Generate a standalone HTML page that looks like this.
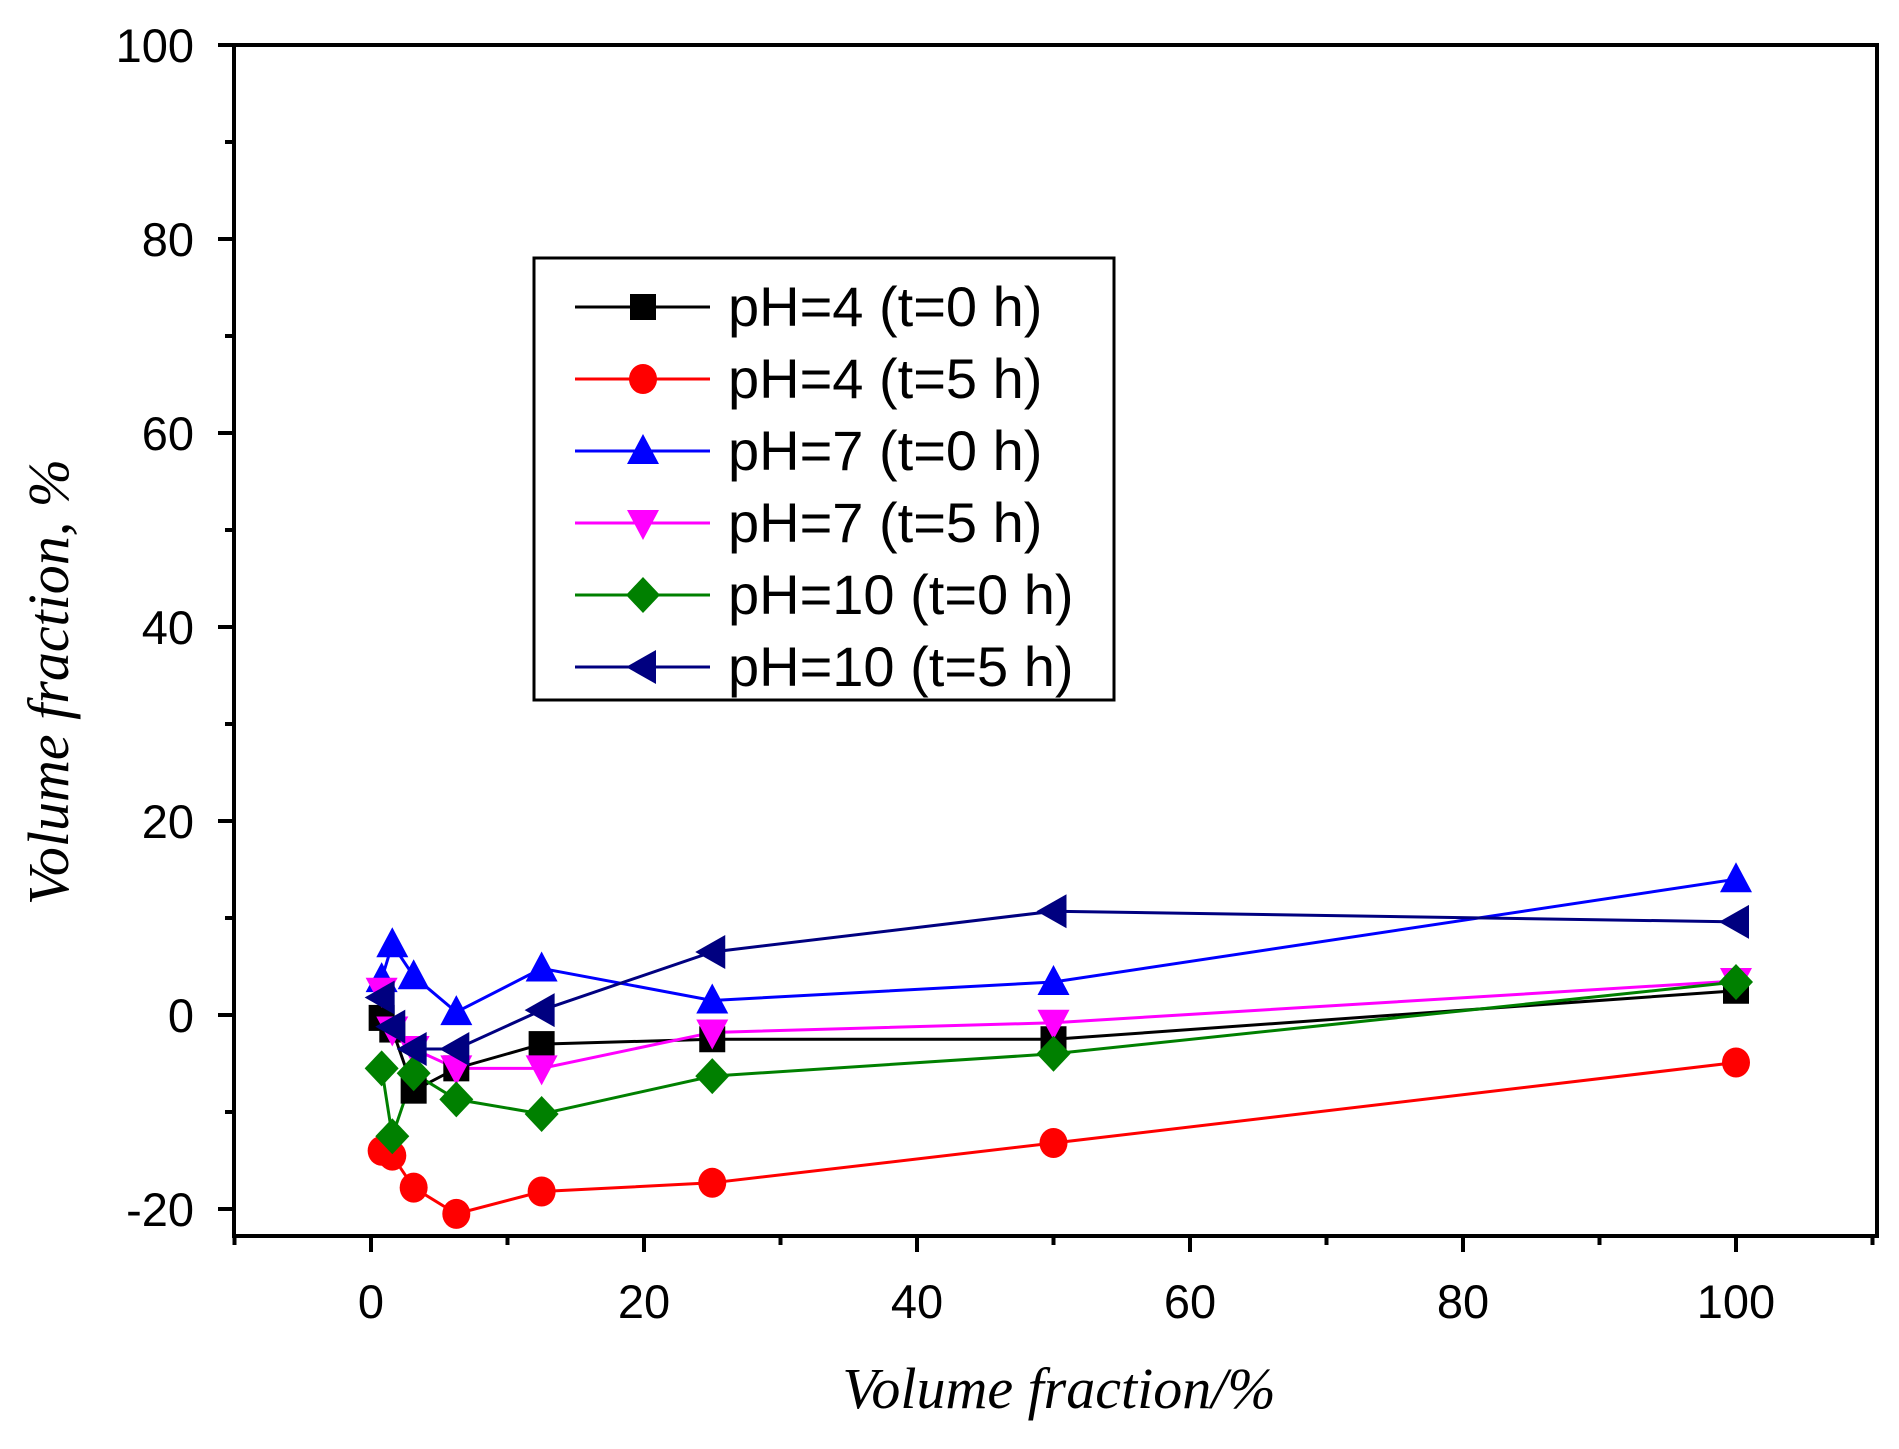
<!DOCTYPE html>
<html><head><meta charset="utf-8"><style>
html,body{margin:0;padding:0;background:#fff;}
svg{display:block;}
text{font-family:"Liberation Sans",sans-serif;}
text.serif{font-family:"Liberation Serif",serif;font-style:italic;}
</style></head><body>
<svg id="s" width="1899" height="1449" viewBox="0 0 1899 1449" xmlns="http://www.w3.org/2000/svg"></svg>
<script>
const s=document.getElementById('s');
const NS='http://www.w3.org/2000/svg';
function el(t,a,txt){const e=document.createElementNS(NS,t);for(const k in a)e.setAttribute(k,a[k]);if(txt!==undefined)e.textContent=txt;s.appendChild(e);return e;}
const L=234,R=1877,T=45,B=1236;
const X=v=>371+v*13.65, Y=v=>45+(100-v)*9.70;
el('rect',{x:0,y:0,width:1899,height:1449,fill:'#fff'});
for(let v=-10;v<=110;v+=10){const x=X(v);const maj=v%20==0;el('line',{x1:x,y1:B,x2:x,y2:B+(maj?16:9),stroke:'#000','stroke-width':4});
 if(maj&&v>=0&&v<=100)el('text',{x:x,y:1318,'font-size':47,'text-anchor':'middle'},v);}
for(let v=-20;v<=100;v+=10){const y=Y(v);const maj=v%20==0;el('line',{x1:L,y1:y,x2:L-(maj?16:9),y2:y,stroke:'#000','stroke-width':4});
 if(maj)el('text',{x:194,y:y+17,'font-size':47,'text-anchor':'end'},v);}
el('rect',{x:L,y:T,width:R-L,height:B-T,fill:'none',stroke:'#000','stroke-width':4});
el('text',{class:'serif',x:1059,y:1408,'font-size':58,'text-anchor':'middle'},'Volume fraction/%');
el('text',{class:'serif',x:0,y:0,'font-size':58,'text-anchor':'middle',transform:'translate(68,682) rotate(-90)'},'Volume fraction, %');
const xs=[0.78,1.56,3.125,6.25,12.5,25,50,100];
const ser=[
['#000','sq',[-0.3,-1.5,-7.8,-5.5,-3,-2.5,-2.5,2.5],'pH=4 (t=0 h)'],
['#f00','ci',[-14,-14.5,-17.8,-20.5,-18.2,-17.3,-13.2,-4.9],'pH=4 (t=5 h)'],
['#00f','up',[3.7,7.3,4,0.3,4.8,1.5,3.4,14],'pH=7 (t=0 h)'],
['#f0f','dn',[2.5,-1.5,-3.5,-5.5,-5.5,-1.8,-0.8,3.5],'pH=7 (t=5 h)'],
['#008000','di',[-5.5,-12.5,-6,-8.7,-10.2,-6.3,-4,3.4],'pH=10 (t=0 h)'],
['#000080','lt',[1.8,-1.2,-3.5,-3.5,0.5,6.5,10.7,9.6],'pH=10 (t=5 h)']];
function mk(x,y,t,c){const r=14;let p;
 if(t=='sq')return el('rect',{x:x-r+1,y:y-r+1,width:2*r-2,height:2*r-2,fill:c});
 if(t=='ci')return el('ellipse',{cx:x,cy:y,rx:r,ry:r+1,fill:c});
 if(t=='up')p=[[x,y-r-3],[x+r+2,y+r-1],[x-r-2,y+r-1]];
 if(t=='dn')p=[[x,y+r+3],[x+r+2,y-r+1],[x-r-2,y-r+1]];
 if(t=='di')p=[[x,y-r-4],[x+r+3,y],[x,y+r+4],[x-r-3,y]];
 if(t=='lt')p=[[x-r-3,y],[x+r-1,y-r-3],[x+r-1,y+r+3]];
 el('polygon',{points:p.map(q=>q.join(',')).join(' '),fill:c});}
ser.forEach(([c,t,ys])=>{el('polyline',{points:xs.map((x,i)=>X(x)+','+Y(ys[i])).join(' '),fill:'none',stroke:c,'stroke-width':3});});
ser.forEach(([c,t,ys])=>{xs.forEach((x,i)=>mk(X(x),Y(ys[i]),t,c));});
el('rect',{x:534,y:258,width:580,height:442,fill:'#fff',stroke:'#000','stroke-width':3});
ser.forEach(([c,t,ys,lab],i)=>{const y=307+i*72;el('line',{x1:575,y1:y,x2:710,y2:y,stroke:c,'stroke-width':3});mk(643,y,t,c);
 el('text',{x:728,y:y+19,'font-size':56},lab);});
</script>
</body></html>
